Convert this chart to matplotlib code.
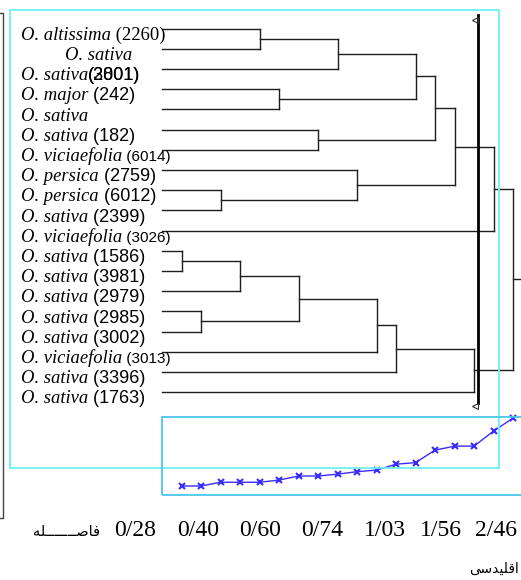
"""Dendrogram of Onobrychis accessions with merge-distance profile."""

import matplotlib

matplotlib.use("Agg")

import matplotlib.pyplot as plt
from matplotlib.lines import Line2D
from matplotlib.patches import Rectangle

W, H = 521, 580

species = [
    "O. altissima", "O. sativa", "O. sativa", "O. major", "O. sativa",
    "O. sativa", "O. viciaefolia", "O. persica", "O. persica", "O. sativa",
    "O. viciaefolia", "O. sativa", "O. sativa", "O. sativa", "O. sativa",
    "O. sativa", "O. viciaefolia", "O. sativa", "O. sativa",
]
accessions = [
    "(2260)", "", "(2801)", "(242)", "", "(182)", "(6014)", "(2759)", "(6012)",
    "(2399)", "(3026)", "(1586)", "(3981)", "(2979)", "(2985)", "(3002)",
    "(3013)", "(3396)", "(1763)",
]
# leaves are 0..18, merge k creates node 19 + k
merges = [
    (11, 12), (14, 15), (8, 9), (19, 13), (0, 1), (3, 4), (22, 20), (5, 6),
    (23, 2), (7, 21), (25, 16), (29, 17), (27, 24), (31, 26), (32, 28),
    (30, 18), (33, 10), (35, 34),
]
distances = [
    0.28, 0.28, 0.40, 0.40, 0.40, 0.47, 0.60, 0.60, 0.66, 0.74, 0.79, 0.98,
    1.03, 1.43, 1.56, 1.56, 2.04, 2.46,
]
tick_labels = ["0/28", "0/40", "0/60", "0/74", "1/03", "1/56", "2/46"]
tick_px = [135, 198, 260, 322, 385, 441, 496]

SERIF = "Liberation Serif"
SANS = "Liberation Sans"
LINE = "#1e1e1e"


def fx(px):
    return px / W


def fy(py):
    return 1 - py / H


fig = plt.figure(figsize=(W / 100, H / 100), dpi=100)
ax = fig.add_axes([0, 0, 1, 1])
# rank axis: leaf edge at 162 px, 19.5 px per merge
ax.set_xlim(-162 / 19.5, (W - 162) / 19.5)
ax.set_ylim((H - 28.5) / 20.2, -28.5 / 20.2)
ax.axis("off")

ax2 = ax.twinx()
ax2.set_ylim(0.28 - (H - 486) * 0.0321, 0.28 + 486 * 0.0321)
ax2.axis("off")

# frames
fig.add_artist(Rectangle((fx(10), fy(468)), fx(489), 458 / H, fill=False,
                         edgecolor="#6af2f2", linewidth=1.3))
fig.add_artist(Rectangle((fx(162), fy(495)), fx(380), 78 / H, fill=False,
                         edgecolor="#4cc6ee", linewidth=1.3))
fig.add_artist(Line2D([0, fx(3), fx(3), 0], [fy(13), fy(13), fy(518), fy(518)],
                      color="#444444", linewidth=1.0))

# dendrogram
n = len(species)
ypos = list(range(n))
rank = [0] * n
parent_rank = {}
for k, (a, b) in enumerate(merges):
    ypos.append((ypos[a] + ypos[b]) / 2)
    rank.append(k + 1)
    parent_rank[a] = k + 1
    parent_rank[b] = k + 1
parent_rank[len(rank) - 1] = ax.get_xlim()[1]

for node in range(len(rank)):
    ax.plot([rank[node], parent_rank[node]], [ypos[node], ypos[node]],
            color=LINE, linewidth=1.0)
for k, (a, b) in enumerate(merges):
    ax.plot([k + 1, k + 1], [ypos[a], ypos[b]], color=LINE, linewidth=1.0)

# leaf labels
label_x = (21 - 162) / 19.5
for i, (name, acc) in enumerate(zip(species, accessions)):
    x = (65 - 162) / 19.5 if i == 1 else label_x
    t = ax.text(x, i + 0.56, name, fontsize=13.4, family=SERIF, style="italic",
                va="baseline", ha="left")
    if not acc:
        continue
    if i == 0:
        ax.annotate(" " + acc, xy=(1, i + 0.56), xycoords=(t, "data"),
                    fontsize=13.4, family=SERIF, va="baseline", ha="left")
    elif i == 2:
        for extra in ("(2801)", "(3001)"):
            ax.annotate(extra, xy=(1, i + 0.56), xycoords=(t, "data"),
                        fontsize=13, family=SANS, va="baseline", ha="left")
    else:
        size = 11 if name == "O. viciaefolia" else 13
        ax.annotate(" " + acc, xy=(1, i + 0.56), xycoords=(t, "data"),
                    fontsize=size, family=SANS, va="baseline", ha="left")

# scale bar with arrows
fig.add_artist(Line2D([fx(478), fx(478)], [fy(15), fy(403)], color="black",
                      linewidth=2.0))
for py in (20, 406):
    fig.add_artist(Line2D([fx(475)], [fy(py)], marker="<", markersize=5,
                          markerfacecolor="none", markeredgecolor="#333333",
                          markeredgewidth=0.8))

# merge distance profile
steps = list(range(1, len(distances) + 1))
ax2.plot(steps, distances, color="#3a2cff", linewidth=1.0, marker="x",
         markersize=5, markeredgewidth=1.5, clip_on=False)

for lab, px in zip(tick_labels, tick_px):
    fig.text(fx(px), fy(530), lab, fontsize=17, family=SERIF, ha="center",
             va="center")

dist_word = "\ufeea\ufee0" + "\u0640" * 7 + "\ufebb\ufe8e\ufed3"
eucl_word = "\ufef0\ufeb3\ufeaa\ufef4\ufee0\ufed7\ufe8d"
fig.text(fx(67), fy(532), dist_word, fontsize=10.5, family="DejaVu Sans",
         ha="center", va="center")
fig.text(fx(494), fy(569), eucl_word, fontsize=10, family="DejaVu Sans",
         ha="center", va="center")

fig.savefig("out.png", dpi=100)
